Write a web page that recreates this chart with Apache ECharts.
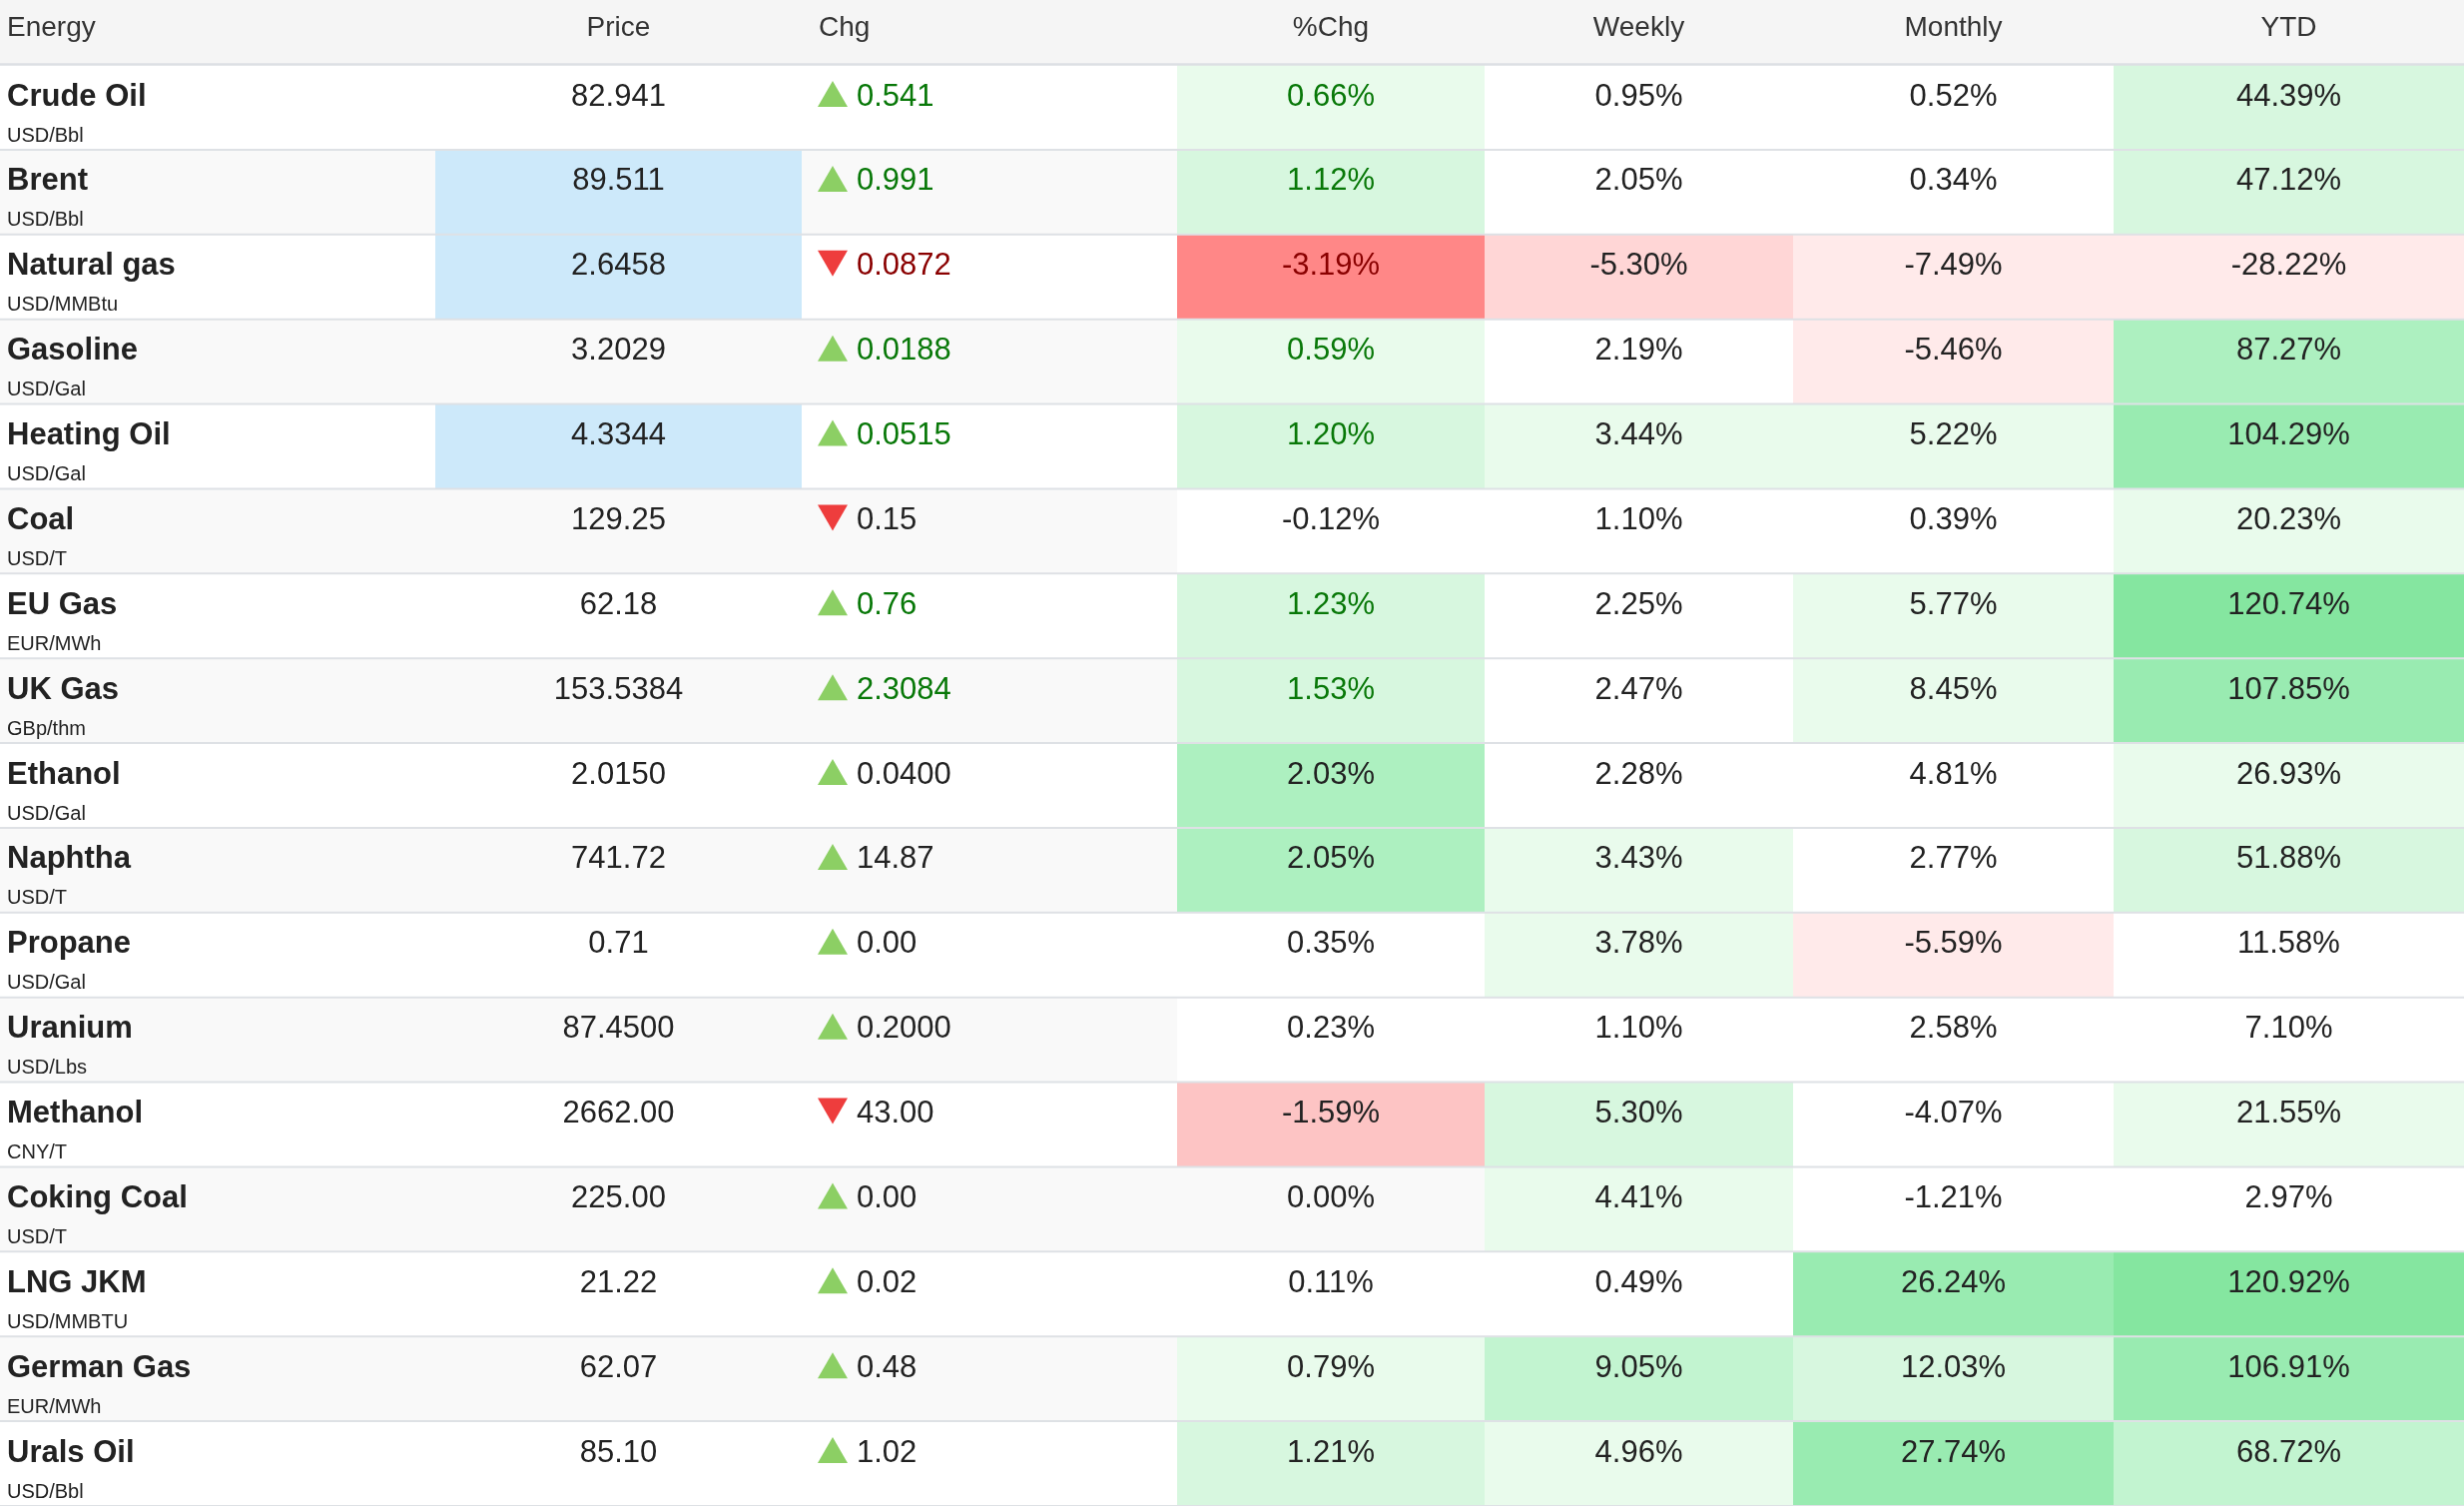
<!DOCTYPE html>
<html>
<head>
<meta charset="utf-8">
<title>Energy</title>
<script src="https://cdn.jsdelivr.net/npm/echarts@6/dist/echarts.min.js"></script>
<style>
  html, body { margin: 0; padding: 0; background: #fff; }
  #main { width: 2468px; height: 1508px; }
</style>
</head>
<body>
<div id="main"></div>
<script>
// ---- data ----
var headers = ['Energy', 'Price', 'Chg', '%Chg', 'Weekly', 'Monthly', 'YTD'];
var names = ['Crude Oil', 'Brent', 'Natural gas', 'Gasoline', 'Heating Oil', 'Coal', 'EU Gas', 'UK Gas',
  'Ethanol', 'Naphtha', 'Propane', 'Uranium', 'Methanol', 'Coking Coal', 'LNG JKM', 'German Gas', 'Urals Oil'];
var units = ['USD/Bbl', 'USD/Bbl', 'USD/MMBtu', 'USD/Gal', 'USD/Gal', 'USD/T', 'EUR/MWh', 'GBp/thm',
  'USD/Gal', 'USD/T', 'USD/Gal', 'USD/Lbs', 'CNY/T', 'USD/T', 'USD/MMBTU', 'EUR/MWh', 'USD/Bbl'];
var prices = ['82.941', '89.511', '2.6458', '3.2029', '4.3344', '129.25', '62.18', '153.5384',
  '2.0150', '741.72', '0.71', '87.4500', '2662.00', '225.00', '21.22', '62.07', '85.10'];
var changes = ['+0.541', '+0.991', '-0.0872', '+0.0188', '+0.0515', '-0.15', '+0.76', '+2.3084',
  '+0.0400', '+14.87', '+0.00', '+0.2000', '-43.00', '+0.00', '+0.02', '+0.48', '+1.02'];
var pctChg = [0.66, 1.12, -3.19, 0.59, 1.20, -0.12, 1.23, 1.53, 2.03, 2.05, 0.35, 0.23, -1.59, 0.00, 0.11, 0.79, 1.21];
var weekly = [0.95, 2.05, -5.30, 2.19, 3.44, 1.10, 2.25, 2.47, 2.28, 3.43, 3.78, 1.10, 5.30, 4.41, 0.49, 9.05, 4.96];
var monthly = [0.52, 0.34, -7.49, -5.46, 5.22, 0.39, 5.77, 8.45, 4.81, 2.77, -5.59, 2.58, -4.07, -1.21, 26.24, 12.03, 27.74];
var ytd = [44.39, 47.12, -28.22, 87.27, 104.29, 20.23, 120.74, 107.85, 26.93, 51.88, 11.58, 7.10, 21.55, 2.97, 120.92, 106.91, 68.72];

// heat level read off the cell shading (null = no shading)
var pctHeat = [1, 2, -6, 1, 2, 0, 2, 2, 4, 4, 0, 0, -3, null, 0, 1, 2];
var weeklyHeat = [0, 0, -2, 0, 1, 0, 0, 0, 0, 1, 1, 0, 2, 1, 0, 3, 1];
var monthlyHeat = [0, 0, -1, -1, 1, 0, 1, 1, 0, 0, -1, 0, 0, 0, 5, 2, 5];
var ytdHeat = [2, 2, -1, 4, 5, 1, 6, 5, 1, 2, 0, 0, 1, 0, 6, 5, 3];

// rows just updated (coloured text) and prices flashing
var live = [1, 1, 1, 1, 1, 0, 1, 1, 0, 0, 0, 0, 0, 0, 0, 0, 0];
var priceFlash = [0, 1, 1, 0, 1, 0, 0, 0, 0, 0, 0, 0, 0, 0, 0, 0, 0];

// ---- layout / style ----
var W = 2468;
var colEdges = [0, 436, 803, 1179, 1487, 1796, 2117, 2468];
var FONT = '"Liberation Sans", Arial, Helvetica, sans-serif';
var heatColors = {
  '-6': '#ff8787', '-5': '#ff9d9d', '-4': '#ffb1b1', '-3': '#fdc4c4', '-2': '#ffd6d6', '-1': '#ffeaea',
  '0': '#ffffff', '1': '#e9fbec', '2': '#d7f7df', '3': '#c2f4d0', '4': '#adf0c0', '5': '#99ebb1', '6': '#85e6a0'
};
var heatCols = [
  { values: pctChg, heat: pctHeat },
  { values: weekly, heat: weeklyHeat },
  { values: monthly, heat: monthlyHeat },
  { values: ytd, heat: ytdHeat }
];
var LINE = '#dee1e5';
var TEXT = '#222';
var UP_TEXT = '#087808', DOWN_TEXT = '#8a0000';

function txt(x, y, s, font, fill, align) {
  return {
    type: 'text',
    z2: 3,
    style: {
      x: x, y: y, text: s, font: font, fill: fill,
      align: align, textAlign: align,
      verticalAlign: 'middle', textVerticalAlign: 'middle'
    }
  };
}

var cells = [];
for (var r = 0; r < names.length; r++) {
  for (var c = 0; c < headers.length; c++) {
    cells.push([c, r]);
  }
}

function renderCell(params, api) {
  var c = api.value(0), r = api.value(1);
  var p0 = api.coord([colEdges[c], r]);
  var p1 = api.coord([colEdges[c + 1], r]);
  var bandH = api.size([0, 1])[1];
  var top = p0[1] - bandH / 2;
  var x0 = p0[0], w = p1[0] - p0[0];
  var stripe = r % 2 === 1 ? '#f9f9f9' : '#ffffff';
  var fill = stripe;
  var children = [];
  var numFont = '31px ' + FONT;
  var isLive = live[r] === 1;

  if (c === 1 && priceFlash[r]) fill = '#cde9fa';
  if (c >= 3) {
    var lv = heatCols[c - 3].heat[r];
    if (lv !== null) fill = heatColors[String(lv)];
  }
  children.push({ type: 'rect', z2: 0, shape: { x: x0, y: top, width: w, height: bandH }, style: { fill: fill } });

  if (c === 0) {
    children.push(txt(x0 + 7, top + 32, names[r], 'bold 31px ' + FONT, TEXT, 'left'));
    children.push(txt(x0 + 7, top + 71, units[r], '20px ' + FONT, TEXT, 'left'));
  } else if (c === 1) {
    children.push(txt(x0 + w / 2, top + 32, prices[r], numFont, TEXT, 'center'));
  } else if (c === 2) {
    var s = changes[r];
    var up = s.charAt(0) !== '-';
    var tx = x0 + 16;
    var pts = up
      ? [[tx, top + 42], [tx + 30, top + 42], [tx + 15, top + 16]]
      : [[tx, top + 16], [tx + 30, top + 16], [tx + 15, top + 42]];
    children.push({ type: 'polygon', z2: 3, shape: { points: pts }, style: { fill: up ? '#8ccf64' : '#ee3d3d' } });
    var col = isLive ? (up ? UP_TEXT : DOWN_TEXT) : TEXT;
    children.push(txt(x0 + 55, top + 32, s.slice(1), numFont, col, 'left'));
  } else {
    var v = heatCols[c - 3].values[r];
    var col2 = TEXT;
    if (c === 3 && isLive) col2 = v < 0 ? DOWN_TEXT : UP_TEXT;
    children.push(txt(x0 + w / 2, top + 32, v.toFixed(2) + '%', numFont, col2, 'center'));
  }
  children.push({
    type: 'line', z2: 5,
    shape: { x1: x0, y1: top + bandH, x2: x0 + w, y2: top + bandH },
    style: { stroke: LINE, lineWidth: 2 }
  });
  return { type: 'group', children: children };
}

function renderHeader(params, api) {
  var c = api.value(0);
  var p0 = api.coord([colEdges[c], 0]);
  var p1 = api.coord([colEdges[c + 1], 0]);
  var bandH = api.size([0, 1])[1];
  var top = p0[1] - bandH / 2;
  var x0 = p0[0], w = p1[0] - p0[0];
  var font = '28px ' + FONT;
  var label;
  if (c === 0) label = txt(x0 + 7, top + 28, headers[c], font, '#333', 'left');
  else if (c === 2) label = txt(x0 + 17, top + 28, headers[c], font, '#333', 'left');
  else label = txt(x0 + w / 2, top + 28, headers[c], font, '#333', 'center');
  return {
    type: 'group',
    children: [
      { type: 'rect', z2: 0, shape: { x: x0, y: top, width: w, height: bandH }, style: { fill: '#f5f5f5' } },
      label,
      {
        type: 'line', z2: 5,
        shape: { x1: x0, y1: top + bandH - 0.5, x2: x0 + w, y2: top + bandH - 0.5 },
        style: { stroke: '#dcdfe3', lineWidth: 2.5 }
      }
    ]
  };
}

var chart = echarts.init(document.getElementById('main'));
chart.setOption({
  animation: false,
  grid: [
    { left: 0, right: 0, top: 0, height: 65 },
    { left: 0, right: 0, top: 65, height: 85 * names.length }
  ],
  xAxis: [
    { gridIndex: 0, type: 'value', min: 0, max: W, show: false },
    { gridIndex: 1, type: 'value', min: 0, max: W, show: false }
  ],
  yAxis: [
    { gridIndex: 0, type: 'category', data: ['header'], show: false },
    { gridIndex: 1, type: 'category', data: names, inverse: true, show: false }
  ],
  series: [
    {
      type: 'custom',
      xAxisIndex: 0, yAxisIndex: 0,
      renderItem: renderHeader,
      data: headers.map(function (h, i) { return [i, 0]; })
    },
    {
      type: 'custom',
      xAxisIndex: 1, yAxisIndex: 1,
      renderItem: renderCell,
      data: cells
    }
  ]
});
</script>
</body>
</html>
